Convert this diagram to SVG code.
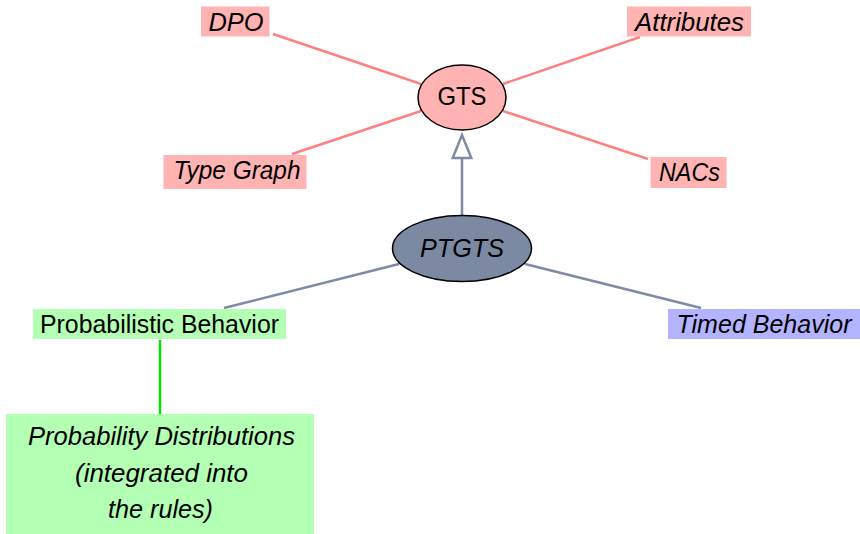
<svg xmlns="http://www.w3.org/2000/svg" width="860" height="534" viewBox="0 0 860 534">
  <style>
    text { font-family: "Liberation Sans", "DejaVu Sans", sans-serif; font-size: 25px; fill: #000; text-anchor: middle; }
    .it { font-style: italic; }
    .pinkbox { fill: #ffb3b3; }
    .greenbox { fill: #b3ffb3; }
    .bluebox { fill: #b3b3ff; }
    .pinkline { stroke: #ff8080; stroke-width: 2.5; fill: none; }
    .slateline { stroke: #7d8ba3; stroke-width: 2.5; fill: none; }
    .greenline { stroke: #00e600; stroke-width: 2.5; fill: none; }
    .ell { stroke: #000; stroke-width: 1.5; }
  </style>
  <rect width="860" height="534" fill="#fff"/>

  <g id="connectors">
    <line class="pinkline" x1="273" y1="34" x2="421" y2="84"/>
    <line class="pinkline" x1="640" y1="37" x2="503" y2="84"/>
    <line class="pinkline" x1="292" y1="154" x2="421" y2="111"/>
    <line class="pinkline" x1="648" y1="159" x2="503" y2="111"/>
    <line class="slateline" x1="462" y1="215" x2="462" y2="158"/>
    <polygon points="462,135 452.7,158 471.3,158" fill="#fff" stroke="#7d8ba3" stroke-width="2.5" stroke-linejoin="miter"/>
    <line class="slateline" x1="399" y1="264" x2="224" y2="308"/>
    <line class="slateline" x1="525" y1="264" x2="701" y2="308"/>
    <line class="greenline" x1="160" y1="340" x2="160" y2="414"/>
  </g>

  <g id="gts">
    <ellipse class="ell" cx="462" cy="97.5" rx="44" ry="32.5" fill="#ffb3b3"/>
    <text x="462" y="105" textLength="49" lengthAdjust="spacingAndGlyphs">GTS</text>
  </g>

  <g id="dpo">
    <rect class="pinkbox" x="201" y="6.5" width="68.5" height="30"/>
    <text class="it" x="236" y="30.5" textLength="55" lengthAdjust="spacingAndGlyphs">DPO</text>
  </g>

  <g id="attributes">
    <rect class="pinkbox" x="627" y="6.5" width="124" height="30"/>
    <text class="it" x="689.5" y="30.5" textLength="109" lengthAdjust="spacingAndGlyphs">Attributes</text>
  </g>

  <g id="type-graph">
    <rect class="pinkbox" x="163.5" y="155" width="143" height="34"/>
    <text class="it" x="237" y="179" textLength="127" lengthAdjust="spacingAndGlyphs">Type Graph</text>
  </g>

  <g id="nacs">
    <rect class="pinkbox" x="650.5" y="157" width="76" height="31"/>
    <text class="it" x="689.5" y="181" textLength="61" lengthAdjust="spacingAndGlyphs">NACs</text>
  </g>

  <g id="ptgts">
    <ellipse class="ell" cx="462" cy="248.5" rx="69.5" ry="33" fill="#7b8aa2"/>
    <text class="it" x="462" y="257" textLength="84" lengthAdjust="spacingAndGlyphs">PTGTS</text>
  </g>

  <g id="probabilistic-behavior">
    <rect class="greenbox" x="33" y="309" width="253" height="30"/>
    <text x="159.5" y="332.5" textLength="239" lengthAdjust="spacingAndGlyphs">Probabilistic Behavior</text>
  </g>

  <g id="timed-behavior">
    <rect class="bluebox" x="668" y="309" width="192" height="30"/>
    <text class="it" x="764" y="332.5" textLength="175" lengthAdjust="spacingAndGlyphs">Timed Behavior</text>
  </g>

  <g id="probability-distributions">
    <rect class="greenbox" x="6" y="414" width="308" height="120"/>
    <text class="it" x="161.5" y="445" textLength="267" lengthAdjust="spacingAndGlyphs">Probability Distributions</text>
    <text class="it" x="161.5" y="481.5" textLength="173" lengthAdjust="spacingAndGlyphs">(integrated into</text>
    <text class="it" x="160.5" y="518" textLength="105" lengthAdjust="spacingAndGlyphs">the rules)</text>
  </g>
</svg>
